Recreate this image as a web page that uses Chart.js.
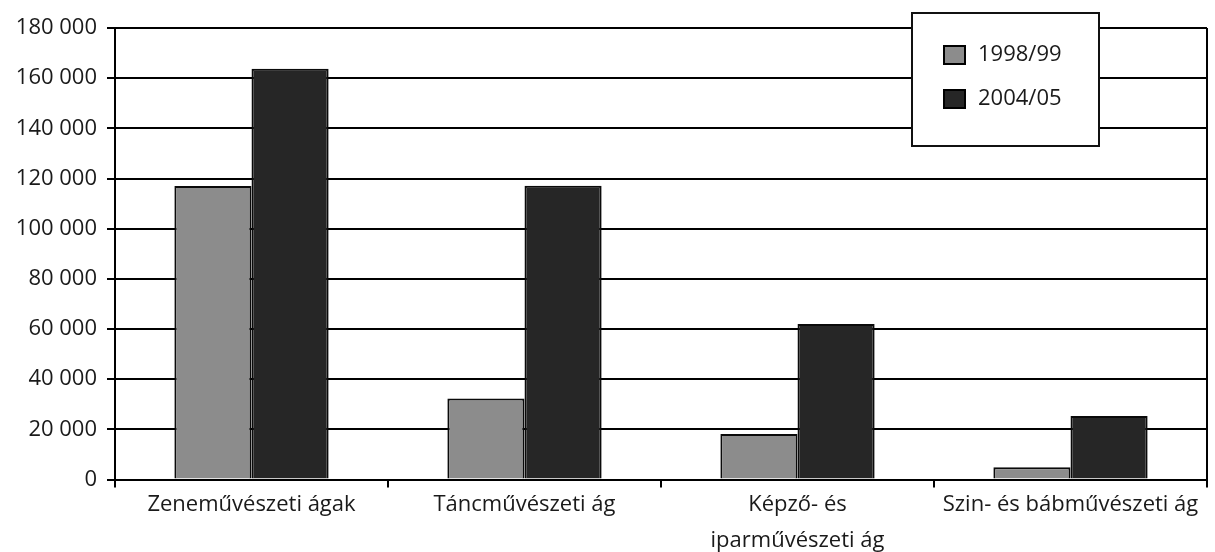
<!DOCTYPE html>
<html>
<head>
<meta charset="utf-8">
<script src="https://cdn.jsdelivr.net/npm/chart.js@4/dist/chart.umd.min.js"></script>
<style>
  html, body { margin: 0; padding: 0; background: #fff; }
  #wrap { width: 1215px; height: 552px; }
</style>
</head>
<body>
<div id="wrap"><canvas id="c" width="1215" height="552"></canvas></div>
<script>
// Enrolment by art branch, two school years
const categories = [
  'Zeneművészeti ágak',
  'Táncművészeti ág',
  ['Képző- és', 'iparművészeti ág'],
  'Szin- és bábművészeti ág'
];
const seriesNames = ['1998/99', '2004/05'];
const values1998 = [117000, 32300, 18100, 4900];
const values2004 = [163800, 117100, 62000, 25300];
const yTicks = [0, 20000, 40000, 60000, 80000, 100000, 120000, 140000, 160000, 180000];

const FONT = "'Open Sans', 'DejaVu Sans', sans-serif";
const fmt = v => String(v).replace(/\B(?=(\d{3})+(?!\d))/g, ' ');

// Framed legend box drawn over the plot area
const boxLegend = {
  id: 'boxLegend',
  afterDraw(chart, args, opts) {
    const { ctx, chartArea } = chart;
    const x = chartArea.right - opts.offsetRight;
    const y = opts.top;
    ctx.save();
    ctx.fillStyle = '#fff';
    ctx.fillRect(x, y, opts.width, opts.height);
    ctx.lineWidth = 2;
    ctx.strokeStyle = '#111';
    ctx.strokeRect(x, y, opts.width, opts.height);
    ctx.font = `${opts.fontSize}px ${FONT}`;
    ctx.textBaseline = 'middle';
    chart.data.datasets.forEach((ds, i) => {
      const cy = y + opts.firstRow + i * opts.rowGap;
      ctx.fillStyle = ds.backgroundColor;
      ctx.fillRect(x + 32, cy - 9, 21, 18);
      ctx.lineWidth = 2;
      ctx.strokeStyle = '#000';
      ctx.strokeRect(x + 32, cy - 9, 21, 18);
      ctx.fillStyle = '#1a1a1a';
      ctx.fillText(ds.label, x + 66, cy);
    });
    ctx.restore();
  }
};

new Chart(document.getElementById('c'), {
  type: 'bar',
  data: {
    labels: categories,
    datasets: [
      { label: seriesNames[0], data: values1998, backgroundColor: '#8c8c8c', borderColor: '#0a0a0a', borderWidth: 2 },
      { label: seriesNames[1], data: values2004, backgroundColor: '#262626', borderColor: '#0a0a0a', borderWidth: 2 }
    ]
  },
  options: {
    responsive: false,
    animation: false,
    layout: { padding: { top: 28, right: 8, left: 0, bottom: 0 } },
    datasets: { bar: { barPercentage: 1, categoryPercentage: 0.565 } },
    plugins: {
      legend: { display: false },
      tooltip: { enabled: false },
      boxLegend: { offsetRight: 295, top: 13, width: 187, height: 133, firstRow: 42, rowGap: 44, fontSize: 22 }
    },
    scales: {
      x: {
        offset: true,
        grid: {
          offset: true,
          drawOnChartArea: true,
          color: c => (c.type !== 'tick' || c.index === 0) ? '#000' : 'rgba(0,0,0,0)',
          tickColor: '#000',
          lineWidth: 2,
          tickLength: 8
        },
        border: { display: true, color: '#000', width: 2 },
        ticks: {
          color: '#1a1a1a',
          padding: -1,
          maxRotation: 0,
          autoSkip: false,
          font: { family: FONT, size: 22, lineHeight: 1.64 }
        },
        afterFit(scale) { scale.height = 72.5; }
      },
      y: {
        min: 0,
        max: 180000,
        afterBuildTicks(scale) { scale.ticks = yTicks.map(v => ({ value: v })); },
        grid: { color: '#000', lineWidth: 2, tickLength: 8 },
        border: { display: true, color: '#000', width: 2 },
        ticks: {
          color: '#1a1a1a',
          padding: 10,
          font: { family: FONT, size: 22 },
          callback: v => fmt(v)
        },
        afterFit(scale) { scale.width = 115; }
      }
    }
  },
  plugins: [boxLegend]
});
</script>
</body>
</html>
